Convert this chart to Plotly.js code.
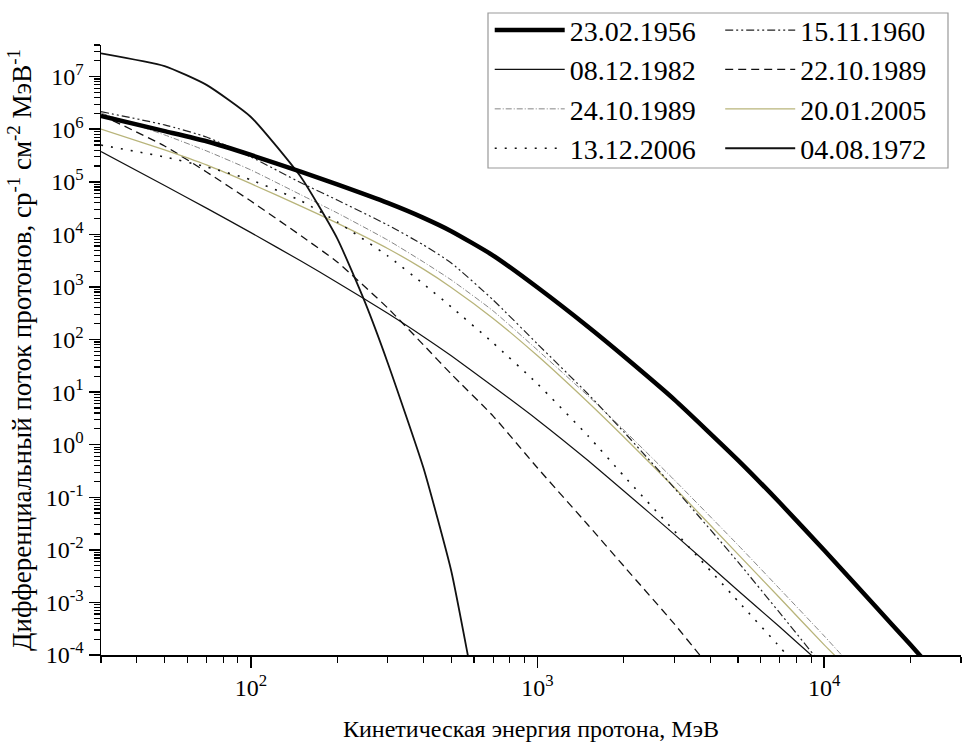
<!DOCTYPE html>
<html>
<head>
<meta charset="utf-8">
<script src="https://cdn.plot.ly/plotly-3.0.1.min.js"></script>
<style>html,body{margin:0;padding:0;background:#fff;}#chart{width:962px;height:752px;}</style>
</head>
<body>
<div id="chart"></div>
<script>
// ---- data (kinetic energy, MeV ; differential flux, sr^-1 cm^-2 MeV^-1) ----
const names = ["23.02.1956","15.11.1960","08.12.1982","22.10.1989","24.10.1989","20.01.2005","13.12.2006","04.08.1972"];

const e1956 = [30, 50, 70, 100, 150, 200, 300, 400, 500, 700, 1000, 1500, 2000, 3000, 5000, 7000, 10000, 15000, 20000, 25000];
const f1956 = [1.79e6, 9.2e5, 5.9e5, 3.24e5, 1.54e5, 8.9e4, 3.96e4, 2.06e4, 1.15e4, 3.96e3, 975, 175, 48, 7.2, 0.51, 0.0785, 9.8e-3, 8.7e-4, 1.56e-4, 4e-5];

const e1960 = [30, 50, 70, 100, 150, 200, 300, 400, 500, 700, 1000, 1500, 2000, 3000, 5000, 7000, 9200, 10000];
const f1960 = [2.16e6, 1.21e6, 7.1e5, 2.97e5, 9.5e4, 4.5e4, 1.51e4, 6.3e3, 2.86e3, 566, 82, 9.2, 1.75, 0.150, 5.9e-3, 6.3e-4, 1.0e-4, 5.6e-5];

const e1982 = [30, 50, 70, 100, 150, 200, 300, 400, 500, 700, 1000, 1500, 2000, 3000, 5000, 7000, 9000, 10000];
const f1982 = [3.75e5, 8.5e4, 3.16e4, 1.08e4, 3.08e3, 1.22e3, 315, 113, 49, 12.8, 2.96, 0.50, 0.132, 0.0197, 1.69e-3, 3.4e-4, 1.0e-4, 6.1e-5];

const e2210 = [30, 50, 70, 100, 150, 200, 300, 400, 500, 700, 1000, 1500, 2000, 3000, 3680, 4000];
const f2210 = [1.87e6, 4.8e5, 1.54e5, 4.3e4, 9.3e3, 2.99e3, 399, 79, 22, 3.5, 0.36, 0.0297, 4.9e-3, 3.9e-4, 1.0e-4, 6e-5];

const e2410 = [30, 50, 70, 100, 150, 200, 300, 400, 500, 700, 1000, 1500, 2000, 3000, 5000, 7000, 10000, 11500, 13000];
const f2410 = [2.04e6, 7.8e5, 3.87e5, 1.68e5, 5.6e4, 2.56e4, 7.8e3, 2.99e3, 1.36e3, 350, 63, 8.5, 1.9, 0.213, 0.0124, 1.8e-3, 2.3e-4, 1.0e-4, 5.2e-5];

const e2005 = [30, 50, 70, 100, 150, 200, 300, 400, 500, 700, 1000, 1500, 2000, 3000, 5000, 7000, 10000, 12000];
const f2005 = [1.01e6, 4.04e5, 2.09e5, 9.2e4, 3.41e4, 1.64e4, 5.4e3, 2.18e3, 980, 252, 49, 6.4, 1.40, 0.153, 8.3e-3, 1.21e-3, 1.56e-4, 5.8e-5];

const e2006 = [30, 50, 70, 100, 150, 200, 300, 400, 500, 700, 1000, 1500, 2000, 3000, 5000, 7000, 7400, 8000];
const f2006 = [5.0e5, 2.97e5, 1.92e5, 1.09e5, 4.3e4, 1.73e4, 3.9e3, 1.14e3, 417, 86, 14.3, 1.47, 0.254, 0.0229, 1.06e-3, 1.42e-4, 1.0e-4, 6.4e-5];

const e1972 = [30, 50, 70, 100, 150, 200, 250, 300, 400, 500, 571, 610];
const f1972 = [2.78e7, 1.59e7, 6.97e6, 1.71e6, 1.2e5, 8.4e3, 514, 36.3, 0.36, 3.96e-3, 1.0e-4, 1.4e-5];

const xTickVals = [100, 1000, 10000];
const xTickText = ["10<sup>2</sup>", "10<sup>3</sup>", "10<sup>4</sup>"];
const yTickVals = [1e-4, 1e-3, 1e-2, 1e-1, 1, 10, 1e2, 1e3, 1e4, 1e5, 1e6, 1e7];
const yTickText = ["10<sup>-4</sup>","10<sup>-3</sup>","10<sup>-2</sup>","10<sup>-1</sup>","10<sup>0</sup>","10<sup>1</sup>","10<sup>2</sup>","10<sup>3</sup>","10<sup>4</sup>","10<sup>5</sup>","10<sup>6</sup>","10<sup>7</sup>"];

// ---- minor tick positions (2..9 in each decade) ----
function minorTicks(d0, d1) {
  const v = [];
  for (let d = d0; d <= d1; d++) for (let k = 2; k <= 9; k++) v.push(k * Math.pow(10, d));
  return v;
}

const FONT = "'Liberation Serif', 'Times New Roman', 'DejaVu Serif', serif";

function tr(x, y, name, line, legend) {
  return {x: x, y: y, name: name, type: "scatter", mode: "lines",
          line: Object.assign({shape: "spline", smoothing: 0.5}, line),
          legend: legend, hoverinfo: "skip"};
}

const traces = [
  tr(e1982, f1982, names[2], {color: "#111", width: 1.2}, "legend"),
  tr(e2210, f2210, names[3], {color: "#111", width: 1.3, dash: "8px,5px"}, "legend2"),
  tr(e2410, f2410, names[4], {color: "#777", width: 0.9, dash: "6px,2px,1px,2px"}, "legend"),
  tr(e2005, f2005, names[5], {color: "#b8b47a", width: 1.3}, "legend2"),
  tr(e2006, f2006, names[6], {color: "#111", width: 1.6, dash: "2px,8px"}, "legend"),
  tr(e1960, f1960, names[1], {color: "#222", width: 1.2, dash: "8px,3px,2px,3px,2px,3px"}, "legend2"),
  tr(e1972, f1972, names[7], {color: "#111", width: 1.8}, "legend2"),
  tr(e1956, f1956, names[0], {color: "#000", width: 4.5}, "legend")
];
// legend order inside each column
const rank = {"23.02.1956":1,"08.12.1982":2,"24.10.1989":3,"13.12.2006":4,
              "15.11.1960":1,"22.10.1989":2,"20.01.2005":3,"04.08.1972":4};
traces.forEach(t => t.legendrank = rank[t.name]);

const legendCommon = {
  orientation: "v", yanchor: "top", xanchor: "left", y: 1.065,
  bgcolor: "rgba(0,0,0,0)", borderwidth: 0, itemwidth: 70,
  font: {family: FONT, size: 28, color: "#000"}, traceorder: "normal"
};

const layout = {
  width: 962, height: 752,
  margin: {l: 101, r: 1, t: 45, b: 97},
  paper_bgcolor: "#fff", plot_bgcolor: "#fff",
  font: {family: FONT, color: "#000"},
  showlegend: true,
  legend: Object.assign({}, legendCommon, {x: 0.452}),
  legend2: Object.assign({}, legendCommon, {x: 0.72}),
  shapes: [{type: "rect", xref: "paper", yref: "paper",
            x0: (488 - 101) / 860, x1: (948 - 101) / 860,
            y0: (655 - 168) / 610, y1: (655 - 13) / 610,
            line: {color: "#999", width: 1.2}, fillcolor: "rgba(0,0,0,0)", layer: "below"}],
  xaxis: {
    type: "log", range: [Math.log10(30), Math.log10(30000)],
    tickmode: "array", tickvals: xTickVals, ticktext: xTickText,
    ticks: "outside", ticklen: 11, tickwidth: 1.5, tickcolor: "#000",
    minor: {tickmode: "array", tickvals: minorTicks(1, 4), ticks: "outside", ticklen: 6, tickwidth: 1.2, tickcolor: "#000", showgrid: false},
    showline: true, linecolor: "#000", linewidth: 1.5, mirror: false,
    showgrid: false, zeroline: false,
    tickfont: {family: FONT, size: 24, color: "#000"},
    title: {text: "Кинетическая энергия протона, МэВ", font: {family: FONT, size: 24, color: "#000"}, standoff: 20}
  },
  yaxis: {
    type: "log", range: [-4, Math.log10(4e7)],
    tickmode: "array", tickvals: yTickVals, ticktext: yTickText,
    ticks: "outside", ticklen: 11, tickwidth: 1.5, tickcolor: "#000",
    minor: {tickmode: "array", tickvals: minorTicks(-4, 7), ticks: "outside", ticklen: 6, tickwidth: 1.2, tickcolor: "#000", showgrid: false},
    showline: true, linecolor: "#000", linewidth: 1.5, mirror: false,
    showgrid: false, zeroline: false,
    tickfont: {family: FONT, size: 24, color: "#000"},
    title: {text: "Дифференциальный поток протонов, ср<sup>-1</sup> см<sup>-2</sup> МэВ<sup>-1</sup>", font: {family: FONT, size: 27, color: "#000"}, standoff: 6}
  }
};

Plotly.newPlot("chart", traces, layout, {staticPlot: true, displayModeBar: false});
</script>
</body>
</html>
